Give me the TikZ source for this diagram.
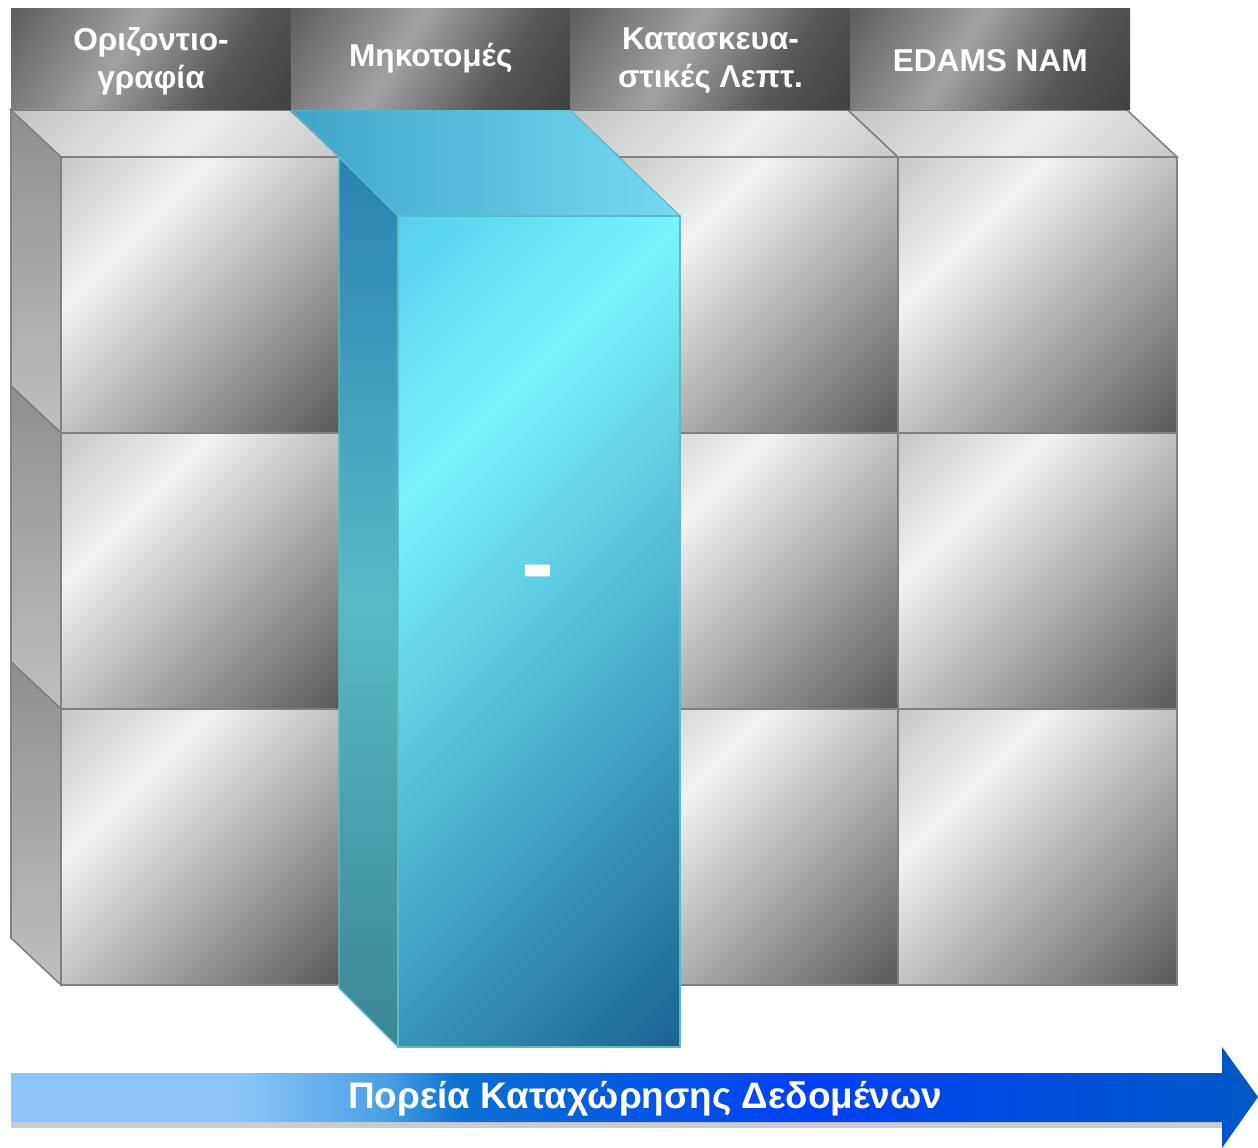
\documentclass[tikz,border=0pt]{standalone}
\usepackage{fontspec}
\setmainfont{Liberation Sans}

\definecolor{edgegray}{HTML}{808080}
\definecolor{cubeA}{HTML}{C8C8C8}
\definecolor{cubeB}{HTML}{F2F2F2}
\definecolor{cubeC}{HTML}{5A5A5A}
\definecolor{topA}{HTML}{C4C4C4}
\definecolor{topB}{HTML}{EEEEEE}
\definecolor{topC}{HTML}{C8C8C8}
\definecolor{headA}{HTML}{5E5E5E}
\definecolor{headB}{HTML}{A2A2A2}
\definecolor{headC}{HTML}{585858}
\definecolor{headD}{HTML}{404040}
\definecolor{blueA}{HTML}{56D0EC}
\definecolor{blueB}{HTML}{78F4FC}
\definecolor{blueC}{HTML}{1A6496}
\definecolor{sideA}{HTML}{3A8696}
\definecolor{sideB}{HTML}{58BAC6}
\definecolor{sideC}{HTML}{2A82B0}
\definecolor{blueedge}{HTML}{5CBCC4}
\definecolor{arA}{HTML}{8CC6F8}
\definecolor{arB}{HTML}{4AA0E6}
\definecolor{arC}{HTML}{0A70D2}
\definecolor{arD}{HTML}{0040F6}
\definecolor{arE}{HTML}{0058C4}

\pgfdeclarehorizontalshading{frontshade}{100bp}{color(0bp)=(cubeA); color(15bp)=(cubeA); color(34bp)=(cubeB); color(85bp)=(cubeC); color(100bp)=(cubeC)}
\pgfdeclarehorizontalshading{topshade}{100bp}{color(0bp)=(topA); color(15bp)=(topA); color(53bp)=(topB); color(85bp)=(topC); color(100bp)=(topC)}
\pgfdeclarehorizontalshading{headshade}{100bp}{color(0bp)=(headA); color(16bp)=(headA); color(43bp)=(headB); color(66bp)=(headC); color(84bp)=(headD); color(100bp)=(headD)}
\pgfdeclarehorizontalshading{blueshade}{100bp}{color(0bp)=(blueA); color(15bp)=(blueA); color(33bp)=(blueB); color(85bp)=(blueC); color(100bp)=(blueC)}
\pgfdeclareverticalshading{blueside}{100bp}{color(0bp)=(sideA); color(25bp)=(sideA); color(50bp)=(sideB); color(75bp)=(sideC); color(100bp)=(sideC)}
\pgfdeclarehorizontalshading{arrowshade}{100bp}{color(0bp)=(arA); color(34bp)=(arA); color(40bp)=(arB); color(43bp)=(arC); color(57bp)=(arD); color(75bp)=(arE); color(100bp)=(arE)}

\begin{document}
\begin{tikzpicture}[x=0.02cm,y=-0.02cm,
  cubeline/.style={draw=edgegray,line width=0.9pt},
  frontface/.style={cubeline,shade,shading=frontshade,shading angle=-45},
  topface/.style={cubeline,shade,shading=topshade,shading angle=-45},
  sideface/.style={cubeline,top color=black!44,bottom color=black!25},
  headbox/.style={shade,shading=headshade,shading angle=-32},
  headtext/.style={text=white,font=\bfseries\fontsize{18}{21.5}\selectfont,align=center},
  bluebar/.style={draw=blueedge,line width=0.7pt}]
\useasboundingbox (0,0) rectangle (1258,1148);
\foreach \j in {0,1,2} \path[sideface] (11,{110+276*\j}) -- ++(50,47) -- ++(0,276) -- ++(-50,-47) -- cycle;
\foreach \i in {0,...,3} \path[topface] ({11+279*\i},110) -- ++(279,0) -- ++(50,47) -- ++(-279,0) -- cycle;
\foreach \i in {0,...,3} \foreach \j in {0,1,2} \path[frontface] ({61+279*\i},{157+276*\j}) rectangle ++(279,276);
\path[bluebar,left color=blueA!60!blueC,right color=blueA!80!white] (291,110) -- (570,110) -- (680,216) -- (398,216) -- cycle;
\path[bluebar,shade,shading=blueside] (339,157) -- (398,216) -- (398,1047) -- (339,988) -- cycle;
\path[bluebar,shade,shading=blueshade,shading angle=-45] (398,216) rectangle (680,1047);
\node[anchor=base,text=white,font=\bfseries\fontsize{56}{60}\selectfont] (dash) at (538,597) {-};
\foreach \i/\y/\t in {0/61/{Οριζοντιο-\\γραφία},1/58/Μηκοτομές,2/61/{Κατασκευα-\\στικές Λεπτ.},3/61/EDAMS NAM} {
  \path[headbox] ({11+279.75*\i},9) rectangle ++(279.75,101);
  \node[headtext] (head\i) at ({151+279.75*\i},\y) {\t};
}
\fill[black!20] (11,1122) rectangle (1222,1128);
\path[shade,shading=arrowshade] (11,1073) -- (1222,1073) -- (1222,1047) -- (1258,1097) -- (1222,1148) -- (1222,1122) -- (11,1122) -- cycle;
\node[headtext,font=\bfseries\fontsize{21}{24}\selectfont] (course) at (645,1099) {Πορεία Καταχώρησης Δεδομένων};
\end{tikzpicture}
\end{document}
